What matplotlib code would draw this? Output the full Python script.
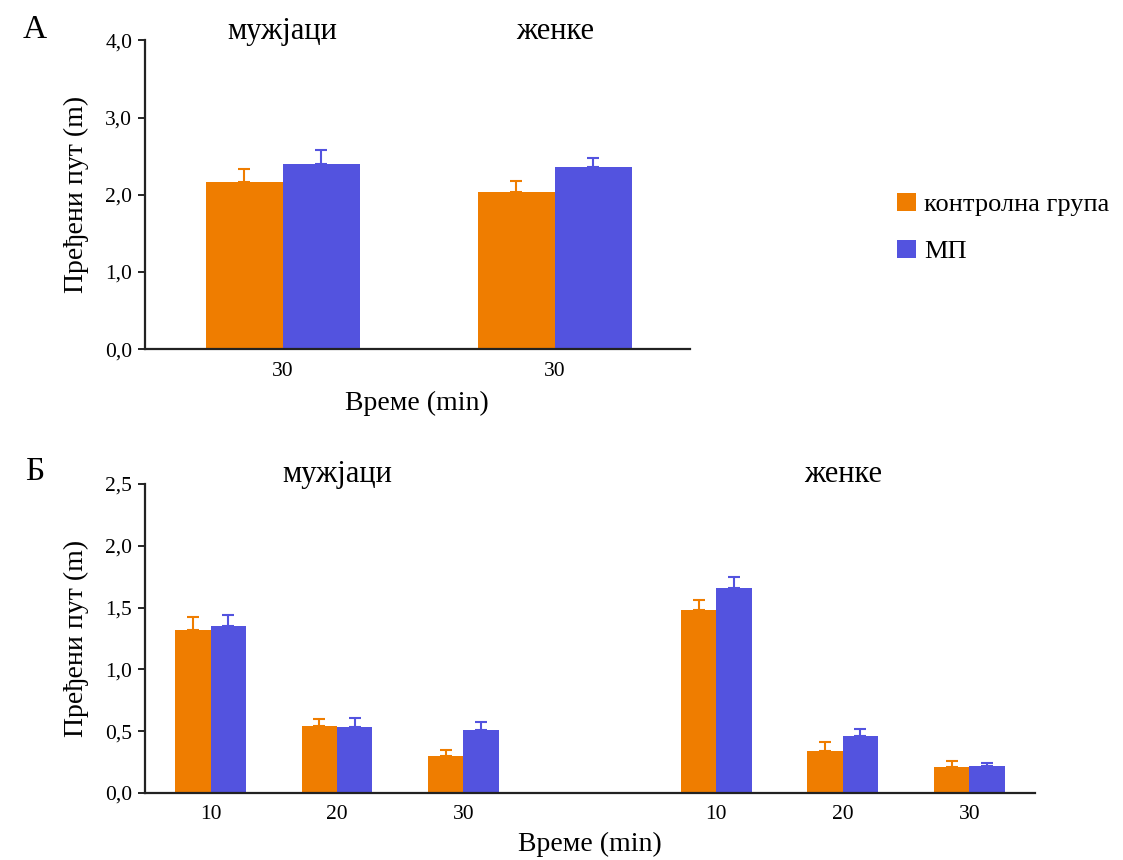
import matplotlib
matplotlib.use("Agg")
import matplotlib.pyplot as plt
import numpy as np

plt.rcParams['font.family'] = ['Liberation Serif', 'DejaVu Serif']

# ---- data ----
series_names = ['контролна група', 'МП']
colors = ['#EF7D00', '#5353DF']

# Panel A (30 min, males / females)
a_groups = ['мужјаци', 'женке']
a_ticklabels = ['30', '30']
a_control = [2.16, 2.04]
a_control_err = [0.17, 0.14]
a_mp = [2.40, 2.36]
a_mp_err = [0.18, 0.12]
a_yticks = [0.0, 1.0, 2.0, 3.0, 4.0]
a_yticklabels = ['0,0', '1,0', '2,0', '3,0', '4,0']

# Panel Б (10, 20, 30 min for males, then females)
b_groups = ['мужјаци', 'женке']
b_ticklabels = ['10', '20', '30', '10', '20', '30']
b_control = [1.32, 0.54, 0.30, 1.48, 0.34, 0.21]
b_control_err = [0.10, 0.06, 0.05, 0.08, 0.07, 0.05]
b_mp = [1.35, 0.53, 0.51, 1.66, 0.46, 0.22]
b_mp_err = [0.09, 0.08, 0.06, 0.09, 0.06, 0.02]
b_yticks = [0.0, 0.5, 1.0, 1.5, 2.0, 2.5]
b_yticklabels = ['0,0', '0,5', '1,0', '1,5', '2,0', '2,5']

ylabel = 'Пређени пут (m)'
xlabel = 'Време (min)'

fig = plt.figure(figsize=(11.23, 8.60), dpi=100)
axA = fig.add_axes([0.129, 0.594, 0.485, 0.359])
axB = fig.add_axes([0.129, 0.078, 0.7926, 0.3592])

W = 0.283


def draw(ax, pos, ctrl, cerr, mp, merr, width):
    z = np.zeros(len(ctrl))
    b1 = ax.bar(pos - width / 2, ctrl, width, color=colors[0], label=series_names[0],
                yerr=[z, cerr], error_kw=dict(ecolor=colors[0], capsize=4, elinewidth=1.5, capthick=1.5),
                zorder=2)
    b2 = ax.bar(pos + width / 2, mp, width, color=colors[1], label=series_names[1],
                yerr=[z, merr], error_kw=dict(ecolor=colors[1], capsize=4, elinewidth=1.5, capthick=1.5),
                zorder=2)
    for s in ['top', 'right']:
        ax.spines[s].set_visible(False)
    for s in ['left', 'bottom']:
        ax.spines[s].set_linewidth(1.6)
        ax.spines[s].set_color('#222222')
    ax.tick_params(axis='x', length=0, pad=9, labelsize=15.5)
    ax.tick_params(axis='y', length=5, width=1.2, labelsize=15.5, pad=4)
    ax.set_ylabel(ylabel, fontsize=20, labelpad=12)
    return b1, b2


# Panel A
posA = np.arange(len(a_control), dtype=float)
b1, b2 = draw(axA, posA, a_control, a_control_err, a_mp, a_mp_err, W)
axA.set_xlim(-0.507, 1.496)
axA.set_ylim(0, 4.0)
axA.set_yticks(a_yticks)
axA.set_yticklabels(a_yticklabels)
axA.set_xticks(posA)
axA.set_xticklabels(a_ticklabels)
axA.set_xlabel(xlabel, fontsize=20, labelpad=7)
for p, g in zip(posA, a_groups):
    axA.text(p, 1.0 + 0.03, g, transform=axA.get_xaxis_transform(), ha='center', va='center', fontsize=22)

# Panel Б
posB = np.array([0, 1, 2, 4, 5, 6], dtype=float)
draw(axB, posB, b_control, b_control_err, b_mp, b_mp_err, 0.28)
axB.set_xlim(-0.52, 6.52)
axB.set_ylim(0, 2.5)
axB.set_yticks(b_yticks)
axB.set_yticklabels(b_yticklabels)
axB.set_xticks(posB)
axB.set_xticklabels(b_ticklabels)
axB.set_xlabel(xlabel, fontsize=20, labelpad=5)
for p, g in zip([posB[1], posB[4]], b_groups):
    axB.text(p, 1.0 + 0.03, g, transform=axB.get_xaxis_transform(), ha='center', va='center', fontsize=22)

# Panel letters
fig.text(0.031, 0.965, 'А', fontsize=24, ha='center', va='center')
fig.text(0.031, 0.452, 'Б', fontsize=24, ha='center', va='center')

# Legend
fig.legend(handles=[b1, b2], labels=series_names, loc='center left',
           bbox_to_anchor=(0.778, 0.735), frameon=False, fontsize=19,
           handlelength=0.7, handleheight=0.7, handletextpad=0.3, labelspacing=0.9)

fig.savefig('out.png', dpi=100)
